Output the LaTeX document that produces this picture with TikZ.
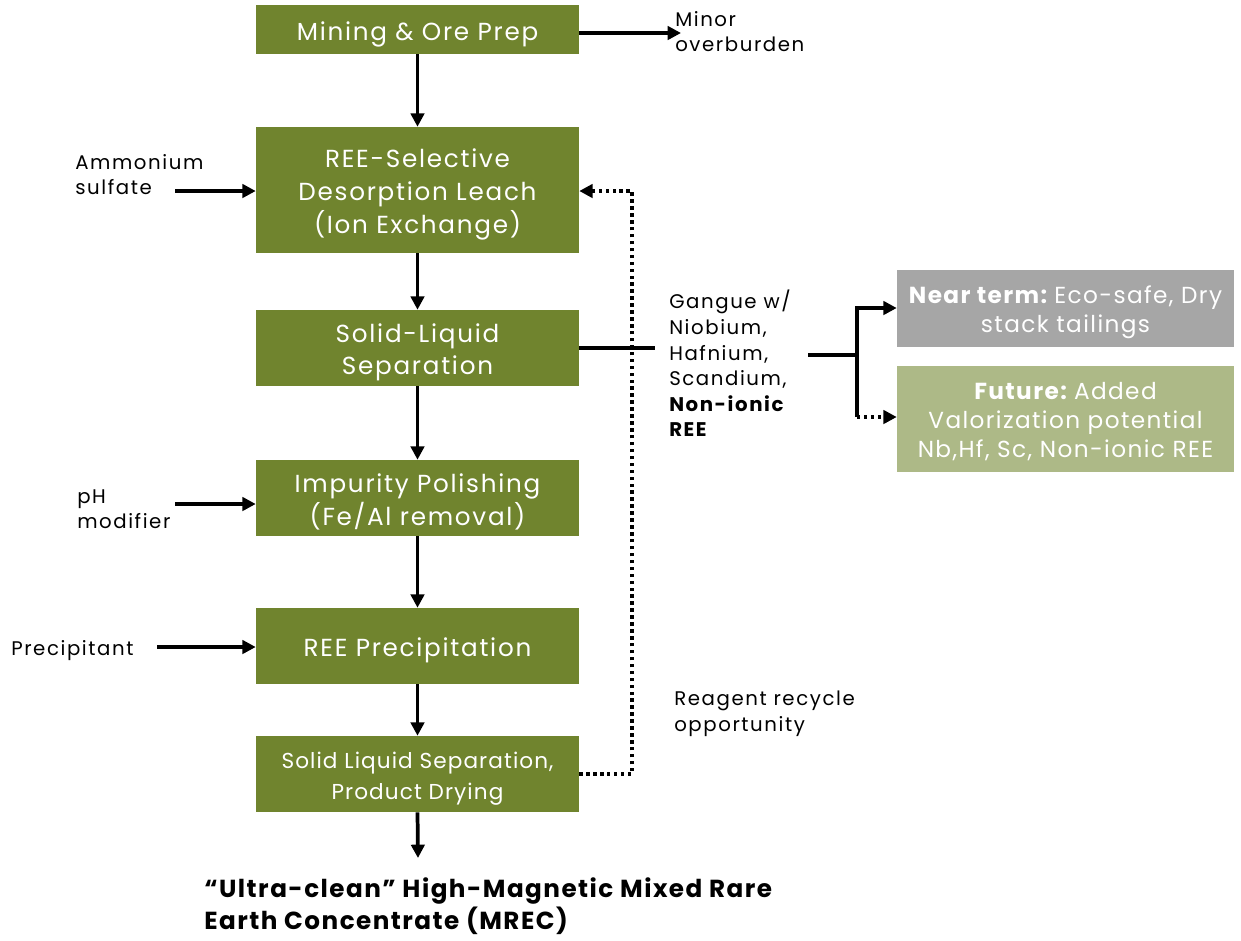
\documentclass[tikz,border=0pt]{standalone}
\usepackage{fontspec}
\setmainfont{Poppins}[LetterSpace=6]
\usetikzlibrary{arrows.meta}
\definecolor{boxgreen}{RGB}{112,132,46}
\definecolor{boxgray}{RGB}{166,166,166}
\definecolor{boxlight}{RGB}{173,185,135}
\newcommand\ctext[1]{\raisebox{-3pt}[\height][\depth]{\begin{tabular}{@{}c@{}}#1\end{tabular}}}
\tikzset{
  box/.style={fill=boxgreen, text=white, minimum width=242.25pt, align=center, inner sep=0pt, font=\fontsize{18.5}{24.5}\selectfont\addfontfeature{LetterSpace=7}},
  sidebox/.style={minimum width=252.75pt, text=white, align=center, inner sep=0pt, font=\fontsize{17.4}{21.75}\selectfont},
  lbl/.style={align=left, inner sep=0pt, font=\fontsize{14.8}{19.2}\selectfont\addfontfeature{LetterSpace=8}},
  flow/.style={line width=2.8pt, -{Triangle[length=10pt,width=10pt]}},
  plain/.style={line width=2.8pt},
  dots/.style={line width=2.8pt, dash pattern=on 2.6pt off 2.6pt},
}
\begin{document}
\begin{tikzpicture}[x=0.75pt,y=-0.75pt]
\useasboundingbox (0,0) rectangle (1241,940);
% main boxes
\node[box, minimum height=36.75pt] (b1) at (417.5,29.5) {\ctext{Mining \& Ore Prep}};
\node[box, minimum height=94.5pt] (b2) at (417.5,190) {\ctext{REE-Selective\\Desorption Leach\\(Ion Exchange)}};
\node[box, minimum height=57pt] (b3) at (417.5,348) {\ctext{Solid-Liquid\\Separation}};
\node[box, minimum height=57pt] (b4) at (417.5,498) {\ctext{Impurity Polishing\\(Fe/Al removal)}};
\node[box, minimum height=57pt] (b5) at (417.5,646) {\ctext{REE Precipitation}};
\node[box, minimum height=57pt, font=\fontsize{16.2}{23}\selectfont\addfontfeature{LetterSpace=5}] (b6) at (417.5,774) {\ctext{Solid Liquid Separation,\\Product Drying}};
% side boxes
\node[sidebox, fill=boxgray, minimum height=57.75pt] (s1) at (1065.5,308.5) {\ctext{\textbf{Near term:}\hspace{0.25em}Eco-safe, Dry\\stack tailings}};
\node[sidebox, fill=boxlight, minimum height=79.5pt] (s2) at (1065.5,419) {\ctext{\textbf{Future:}\hspace{0.25em}Added\\Valorization potential\\Nb,Hf, Sc, Non-ionic REE}};
% labels
\node[lbl, anchor=north west] (minor) at (675,11) {Minor\\overburden};
\node[lbl, anchor=north west] (amm) at (75,154) {Ammonium\\sulfate};
\node[lbl, anchor=north west] (ph) at (77,489) {pH\\modifier};
\node[lbl, anchor=west] (prec) at (11,651) {Precipitant};
\node[lbl, anchor=north west] (gang) at (669,290) {Gangue w/\\Niobium,\\Hafnium,\\Scandium,\\\textbf{Non-ionic}\\\textbf{REE}};
\node[lbl, anchor=north west] (reag) at (674,691) {Reagent recycle\\opportunity};
\node[align=left, inner sep=0pt, anchor=north west, font=\fontsize{18.5}{24}\selectfont\bfseries] (prod) at (204,877) {“Ultra-clean” High-Magnetic Mixed Rare\\Earth Concentrate (MREC)};
% coordinates
\coordinate (minorend) at (681,33);
\coordinate (ammstart) at (175,191);
\coordinate (phstart) at (175,504);
\coordinate (precstart) at (157,647);
\coordinate (gangend) at (655,348);
\coordinate (splitstart) at (808,355);
\coordinate (split) at (857,355);
\coordinate (prodend) at (418,858);
% vertical flow
\draw[flow] (b1.south) -- (b2.north);
\draw[flow] (b2.south) -- (b3.north);
\draw[flow] (b3.south) -- (b4.north);
\draw[flow] (b4.south) -- (b5.north);
\draw[flow] (b5.south) -- (b6.north);
\draw[flow] (b6.south) -- (prodend);
% side inputs
\draw[flow] (b1.east |- minorend) -- (minorend);
\draw[flow] (ammstart) -- (b2.west |- ammstart);
\draw[flow] (phstart) -- (b4.west |- phstart);
\draw[flow] (precstart) -- (b5.west |- precstart);
\draw[plain] (b3.east |- gangend) -- (gangend);
% recycle
\draw[dots, -{Triangle[length=10pt,width=10pt]}] (b6.east) -- (632,774) -- (632,191) -- (b2.east |- 0,191);
% split
\draw[plain] (splitstart) -- (split);
\draw[flow] (split) -- (857,308) -- (s1.west |- 0,308);
\draw[plain] (split) -- (857,417);
\draw[dots, -{Triangle[length=10pt,width=10pt]}] (857,417) -- (s2.west |- 0,417);
\end{tikzpicture}
\end{document}
